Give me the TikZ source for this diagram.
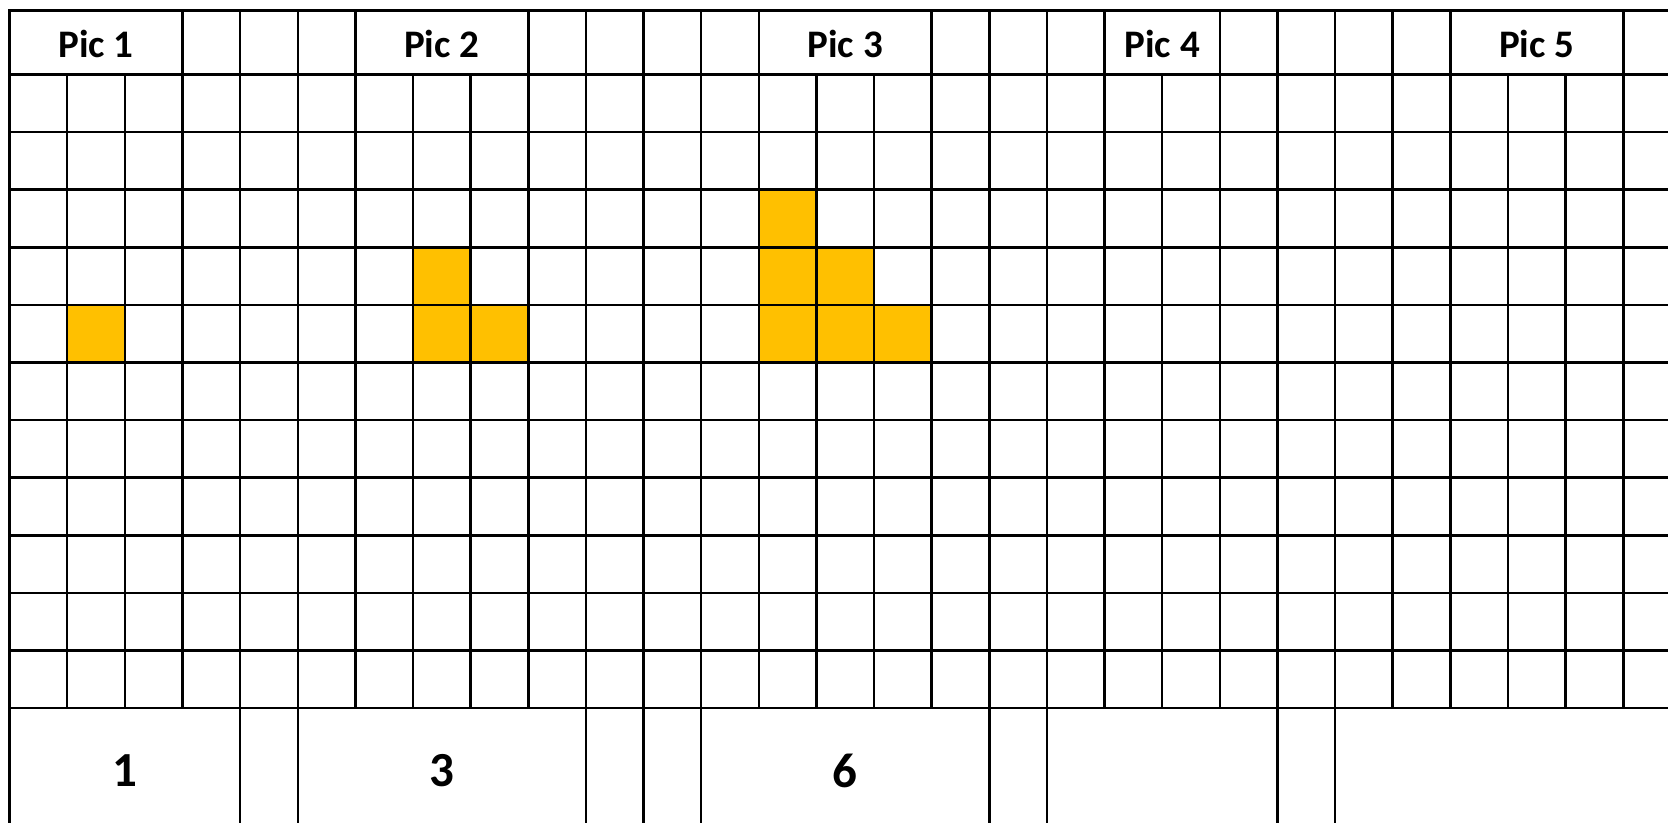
\documentclass[tikz,border=0pt]{standalone}
\usepackage{fontspec}
\setmainfont{Carlito}
\definecolor{gold}{HTML}{FFC000}
\begin{document}
\begin{tikzpicture}[x=0.5pt,y=-0.5pt,
  grid/.style={line width=1.25pt, black, line cap=rect},
  fillcell/.style={fill=gold},
  head/.style={font=\bfseries\fontsize{19.5}{22}\selectfont, inner sep=0pt},
  num/.style={font=\bfseries\fontsize{24.5}{28}\selectfont, inner sep=0pt}]
\useasboundingbox (0,0) rectangle (1668,823);
\def\cw{57.63}
\def\rh{57.6}
\begin{scope}
\clip (0,0) rectangle (1668,823);
% filled cells
\foreach \c/\r in {1/4, 7/3, 7/4, 8/4, 13/2, 13/3, 13/4, 14/3, 14/4, 15/4}
  \fill[fillcell] ({9.6+\cw*\c},{74.5+\rh*\r}) rectangle ++(\cw,\rh);
% horizontal lines
\draw[grid] (9.6,10.6) -- (1690,10.6);
\foreach \r in {0,...,11}
  \draw[grid] (9.6,{74.5+\rh*\r}) -- (1690,{74.5+\rh*\r});
% left border
\draw[grid] (9.6,10.6) -- (9.6,850);
% data-row verticals
\foreach \k in {1,...,28}
  \draw[grid] ({9.6+\cw*\k},74.5) -- ++(0,633.6);
% header verticals
\foreach \k in {3,4,5,6,9,10,11,12,13,16,17,18,19,21,22,23,24,25,28}
  \draw[grid] ({9.6+\cw*\k},10.6) -- ++(0,63.9);
% bottom-row verticals
\foreach \k in {4,5,10,11,12,17,18,22,23}
  \draw[grid] ({9.6+\cw*\k},708.1) -- ++(0,140);
\end{scope}
% header labels
\node[head] (p1) at ({9.6+\cw*1.5},44) {Pic 1};
\node[head] (p2) at ({9.6+\cw*7.5},44) {Pic 2};
\node[head] (p3) at ({9.6+\cw*14.5},44) {Pic 3};
\node[head] (p4) at ({9.6+\cw*20},44) {Pic 4};
\node[head] (p5) at ({9.6+\cw*26.5},44) {Pic 5};
% bottom numbers
\node[num] (n1) at ({9.6+\cw*2},771) {1};
\node[num] (n3) at ({9.6+\cw*7.5},771) {3};
\node[num] (n6) at ({9.6+\cw*14.5},771) {6};
\end{tikzpicture}
\end{document}
